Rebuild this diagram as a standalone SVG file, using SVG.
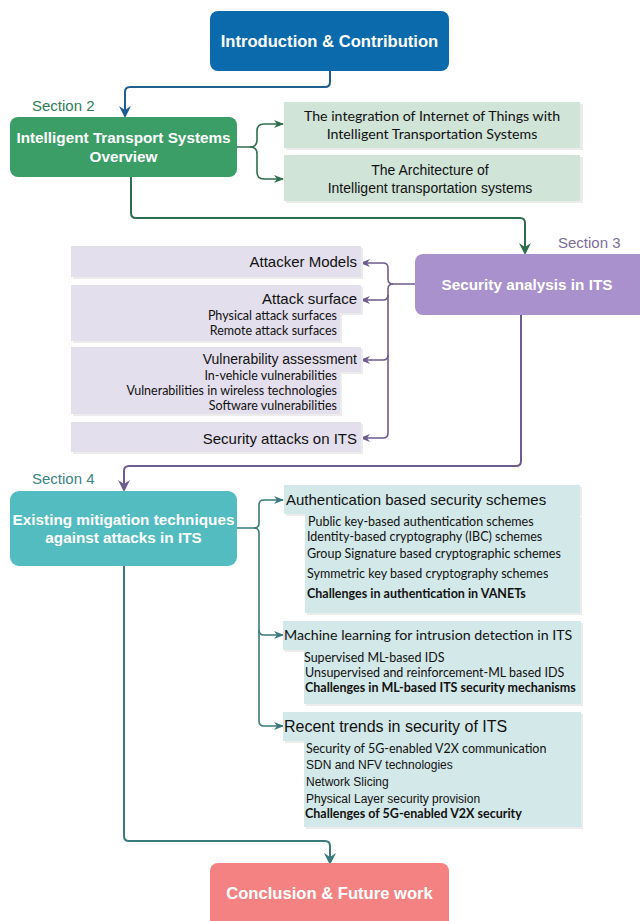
<svg xmlns="http://www.w3.org/2000/svg" width="640" height="921" viewBox="0 0 640 921">
<style>
.main{font-family:"Liberation Sans",Arial,sans-serif;font-weight:bold;fill:#fff;text-anchor:middle}
.sec{font-family:"Liberation Sans",Arial,sans-serif;font-size:15px}
.ar{font-family:"Liberation Sans",Arial,sans-serif;fill:#111}
.lt{font-family:Lato,"Open Sans",sans-serif;fill:#111}
.b{font-weight:bold}
.sh{fill:#ececec}
.conn{fill:none;stroke-width:2}
.thin{fill:none;stroke-width:1.6}
</style>
<defs>
<marker id="mBlue" markerWidth="12" markerHeight="12" refX="6" refY="10" markerUnits="userSpaceOnUse" viewBox="0 0 12 12"><path d="M0,0 L6,4 L12,0 L6,12 Z" fill="#1f5f8f"/></marker>
<marker id="mGreenBig" markerWidth="12" markerHeight="12" refX="6" refY="10" markerUnits="userSpaceOnUse" viewBox="0 0 12 12"><path d="M0,0 L6,4 L12,0 L6,12 Z" fill="#2e6e4e"/></marker>
<marker id="mPurpleBig" markerWidth="12" markerHeight="12" refX="6" refY="10" markerUnits="userSpaceOnUse" viewBox="0 0 12 12"><path d="M0,0 L6,4 L12,0 L6,12 Z" fill="#6e5c8e"/></marker>
<marker id="mTealBig" markerWidth="12" markerHeight="12" refX="6" refY="10" markerUnits="userSpaceOnUse" viewBox="0 0 12 12"><path d="M0,0 L6,4 L12,0 L6,12 Z" fill="#3a7a7c"/></marker>
<marker id="aGreen" markerWidth="10" markerHeight="10" refX="9" refY="5" orient="auto" markerUnits="userSpaceOnUse" viewBox="0 0 10 10"><path d="M0,1 L10,5 L0,9 L3,5 Z" fill="#2e6e4e"/></marker>
<marker id="aPurple" markerWidth="10" markerHeight="10" refX="9" refY="5" orient="auto" markerUnits="userSpaceOnUse" viewBox="0 0 10 10"><path d="M0,1 L10,5 L0,9 L3,5 Z" fill="#6e5c8e"/></marker>
<marker id="aTeal" markerWidth="10" markerHeight="10" refX="9" refY="5" orient="auto" markerUnits="userSpaceOnUse" viewBox="0 0 10 10"><path d="M0,1 L10,5 L0,9 L3,5 Z" fill="#3a7a7c"/></marker>
</defs>
<rect width="640" height="921" fill="#fff"/>

<g id="connectors">
<path class="conn" stroke="#1f5f8f" d="M330,71 V82 Q330,87 325,87 H130 Q125,87 125,92 V116" marker-end="url(#mBlue)"/>
<path class="conn" stroke="#2e6e4e" d="M131,177 V213 Q131,218 136,218 H520 Q525,218 525,223 V253" marker-end="url(#mGreenBig)"/>
<path class="conn" stroke="#6e5c8e" d="M521,315 V461 Q521,466 516,466 H129 Q124,466 124,471 V490" marker-end="url(#mPurpleBig)"/>
<path class="conn" stroke="#3a7a7c" d="M124,566 V836 Q124,841 129,841 H325 Q330,841 330,846 V863" marker-end="url(#mTealBig)"/>
<g stroke="#2e6e4e">
<path class="thin" d="M237,147 H250 Q257,147 257,140 V131 Q257,124 264,124 H283" marker-end="url(#aGreen)"/>
<path class="thin" d="M250,147 Q257,147 257,154 V172 Q257,179 264,179 H283" marker-end="url(#aGreen)"/>
</g>
<g stroke="#6e5c8e">
<path class="thin" d="M415,284 H393 Q388,284 388,279 V268 Q388,263 383,263 H361" marker-end="url(#aPurple)"/>
<path class="thin" d="M393,284 Q388,284 388,289 V433 Q388,438 383,438 H361" marker-end="url(#aPurple)"/>
<path class="thin" d="M388,295 Q388,300 383,300 H361" marker-end="url(#aPurple)"/>
<path class="thin" d="M388,355 Q388,360 383,360 H361" marker-end="url(#aPurple)"/>
</g>
<g stroke="#3a7a7c">
<path class="thin" d="M237,528 H254 Q259,528 259,523 V505 Q259,500 264,500 H283" marker-end="url(#aTeal)"/>
<path class="thin" d="M254,528 Q259,528 259,533 V721 Q259,726 264,726 H283" marker-end="url(#aTeal)"/>
<path class="thin" d="M259,630 Q259,635 264,635 H283" marker-end="url(#aTeal)"/>
</g>
</g>

<g id="intro">
<rect x="210" y="11" width="239" height="60" rx="8" fill="#0a6aab"/>
<text class="main" x="329.5" y="47" font-size="16.6">Introduction &amp; Contribution</text>
</g>

<g id="section2">
<text class="sec" x="32" y="111" fill="#2e7d57">Section 2</text>
<rect x="10" y="117" width="227" height="60" rx="8" fill="#3a9e66"/>
<text class="main" x="123.5" y="143" font-size="15.3">Intelligent Transport Systems</text>
<text class="main" x="123.5" y="162" font-size="15.3">Overview</text>
</g>

<g id="s2-iot">
<rect class="sh" x="286" y="104" width="297" height="46"/>
<rect x="284" y="102" width="296" height="46" fill="#d0e4d8"/>
<text class="lt" x="432" y="121" font-size="14.2" text-anchor="middle">The integration of Internet of Things with</text>
<text class="lt" x="432" y="139" font-size="14.2" text-anchor="middle">Intelligent Transportation Systems</text>
</g>

<g id="s2-arch">
<rect class="sh" x="286" y="157" width="297" height="46"/>
<rect x="284" y="155" width="296" height="46" fill="#d0e4d8"/>
<text class="ar" x="430" y="175" font-size="14" text-anchor="middle">The Architecture of</text>
<text class="ar" x="430" y="193" font-size="14" text-anchor="middle">Intelligent transportation systems</text>
</g>

<g id="section3">
<text class="sec" x="558" y="248" fill="#7d6c9c">Section 3</text>
<rect x="415" y="254" width="235" height="61" rx="8" fill="#a891cc"/>
<text class="main" x="527" y="290" font-size="15.3">Security analysis in ITS</text>
</g>

<g id="s3-attacker">
<rect class="sh" x="73" y="248" width="290" height="31"/>
<rect x="71" y="246" width="290" height="31" fill="#e3dfec"/>
<text class="ar" x="357" y="267" font-size="15" text-anchor="end">Attacker Models</text>
</g>

<g id="s3-surface">
<rect class="sh" x="73" y="287" width="290" height="28"/>
<rect class="sh" x="73" y="312" width="269" height="31"/>
<rect x="71" y="285" width="290" height="28" fill="#e3dfec"/>
<rect x="71" y="311" width="269" height="30" fill="#e3dfec"/>
<text class="ar" x="357" y="304" font-size="15" text-anchor="end">Attack surface</text>
<text class="lt" x="337" y="320" font-size="12.5" text-anchor="end">Physical attack surfaces</text>
<text class="lt" x="337" y="335" font-size="12.5" text-anchor="end">Remote attack surfaces</text>
</g>

<g id="s3-vuln">
<rect class="sh" x="73" y="349" width="290" height="25"/>
<rect class="sh" x="73" y="372" width="269" height="44"/>
<rect x="71" y="347" width="290" height="25" fill="#e3dfec"/>
<rect x="71" y="370" width="269" height="44" fill="#e3dfec"/>
<text class="ar" x="357" y="364" font-size="14" text-anchor="end">Vulnerability assessment</text>
<text class="lt" x="337" y="380" font-size="12.5" text-anchor="end">In-vehicle vulnerabilities</text>
<text class="lt" x="337" y="395" font-size="12.5" text-anchor="end">Vulnerabilities in wireless technologies</text>
<text class="lt" x="337" y="410" font-size="12.5" text-anchor="end">Software vulnerabilities</text>
</g>

<g id="s3-attacks">
<rect class="sh" x="73" y="424" width="290" height="30"/>
<rect x="71" y="422" width="290" height="30" fill="#e3dfec"/>
<text class="ar" x="357" y="444" font-size="15" text-anchor="end">Security attacks on ITS</text>
</g>

<g id="section4">
<text class="sec" x="32" y="484" fill="#3a8484">Section 4</text>
<rect x="10" y="491" width="227" height="75" rx="9" fill="#52bcc0"/>
<text class="main" x="123.5" y="525" font-size="15.3">Existing mitigation techniques</text>
<text class="main" x="123.5" y="543" font-size="15.3">against attacks in ITS</text>
</g>

<g id="s4-auth">
<rect class="sh" x="286" y="487" width="296" height="29"/>
<rect class="sh" x="307" y="517" width="275" height="98"/>
<rect x="284" y="485" width="296" height="29" fill="#d3e8e8"/>
<rect x="305" y="514" width="275" height="99" fill="#d3e8e8"/>
<text class="ar" x="286" y="505" font-size="15">Authentication based security schemes</text>
<text class="lt" x="308" y="526" font-size="12.5">Public key-based authentication schemes</text>
<text class="lt" x="307" y="541" font-size="12.5">Identity-based cryptography (IBC) schemes</text>
<text class="lt" x="307" y="558" font-size="12.5">Group Signature based cryptographic schemes</text>
<text class="lt" x="307" y="578" font-size="12.5">Symmetric key based cryptography schemes</text>
<text class="lt b" x="307" y="598" font-size="12.5">Challenges in authentication in VANETs</text>
</g>

<g id="s4-ml">
<rect class="sh" x="285" y="623" width="298" height="29"/>
<rect class="sh" x="306" y="652" width="277" height="54"/>
<rect x="283" y="621" width="298" height="29" fill="#d3e8e8"/>
<rect x="304" y="650" width="277" height="54" fill="#d3e8e8"/>
<text class="lt" x="284" y="640" font-size="14.2">Machine learning for intrusion detection in ITS</text>
<text class="lt" x="304" y="662" font-size="12.5">Supervised ML-based IDS</text>
<text class="lt" x="305" y="677" font-size="12.5">Unsupervised and reinforcement-ML based IDS</text>
<text class="lt b" x="305" y="692" font-size="12.5">Challenges in ML-based ITS security mechanisms</text>
</g>

<g id="s4-trends">
<rect class="sh" x="285" y="714" width="298" height="29"/>
<rect class="sh" x="306" y="743" width="277" height="86"/>
<rect x="283" y="712" width="298" height="29" fill="#d3e8e8"/>
<rect x="304" y="741" width="277" height="86" fill="#d3e8e8"/>
<text class="ar" x="284" y="732" font-size="16">Recent trends in security of ITS</text>
<text class="lt" x="306" y="753" font-size="12.5">Security of 5G-enabled V2X communication</text>
<text class="ar" x="306" y="769" font-size="12">SDN and NFV technologies</text>
<text class="ar" x="306" y="786" font-size="12">Network Slicing</text>
<text class="ar" x="306" y="803" font-size="12">Physical Layer security provision</text>
<text class="lt b" x="305" y="818" font-size="12.5">Challenges of 5G-enabled V2X security</text>
</g>

<g id="conclusion">
<rect x="210" y="863" width="239" height="70" rx="8" fill="#f58282"/>
<text class="main" x="329.5" y="899" font-size="16.6">Conclusion &amp; Future work</text>
</g>
</svg>
